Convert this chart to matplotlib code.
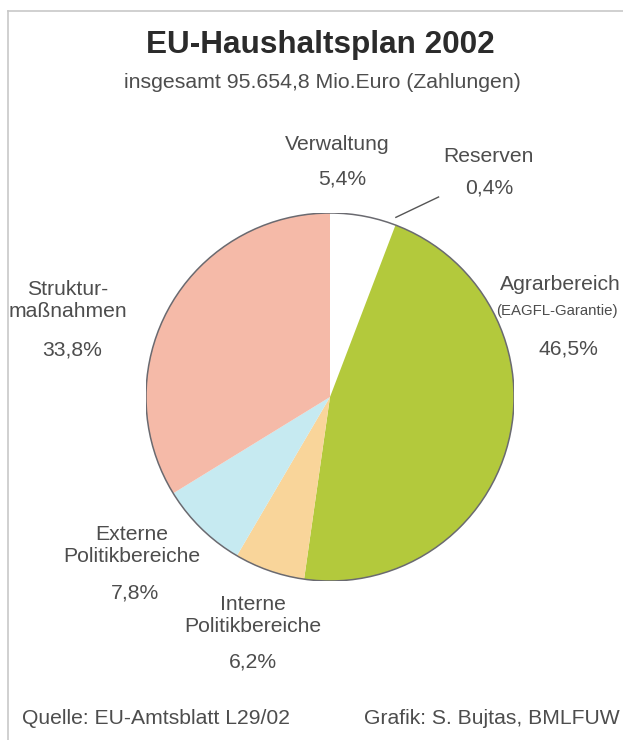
import numpy as np
import matplotlib
matplotlib.use('Agg')
import matplotlib.pyplot as plt
from matplotlib.lines import Line2D
from matplotlib.patches import Circle

plt.rcParams['font.family'] = ['Liberation Sans', 'DejaVu Sans']

# Data (percent of payments)
labels = ['Verwaltung', 'Reserven', 'Agrarbereich', 'Interne\nPolitikbereiche',
          'Externe\nPolitikbereiche', 'Struktur-\nmaßnahmen']
shares = [5.4, 0.4, 46.5, 6.2, 7.8, 33.8]
colors = ['#ffffff', '#ffffff', '#b3c93c', '#f9d59a', '#c6eaf1', '#f5baa8']

W, H = 623, 740
fig = plt.figure(figsize=(W / 100, H / 100), dpi=100)
fig.patch.set_facecolor('white')


def fx(x):
    return x / W


def fy(y):
    return 1 - y / H


# frame around the graphic
fig.add_artist(Line2D([fx(8), fx(8)], [fy(11), 0], color='#c8c8c8', lw=1.2))
fig.add_artist(Line2D([fx(8), 1], [fy(11), fy(11)], color='#c8c8c8', lw=1.2))

# pie: centre (330, 397), radius 184 px
cx, cy, r = 330, 397, 184
ax = fig.add_axes([fx(cx - r), fy(cy + r), 2 * r / W, 2 * r / H])
wedges, _ = ax.pie(shares, colors=colors, startangle=90, counterclock=False,
                   wedgeprops=dict(linewidth=0))
ax.add_patch(Circle((0, 0), 1, fill=False, edgecolor='#6a6a70', lw=1.1))
ax.set_xlim(-1, 1)
ax.set_ylim(-1, 1)
ax.axis('off')

# leader line for the small "Reserven" slice
ang = np.deg2rad(90 - 360 * (shares[0] + shares[1] / 2) / sum(shares))
ax.plot([1.04 * np.cos(ang), 0.59], [1.04 * np.sin(ang), 1.087],
        color='#555555', lw=1, clip_on=False)

txt = '#4d4d4d'
pct = [f'{v:.1f}%'.replace('.', ',') for v in shares]

fig.text(fx(320), fy(45), 'EU-Haushaltsplan 2002', ha='center', va='center',
         fontsize=22.7, fontweight='bold', color='#2b2b2b')
fig.text(fx(322), fy(82), 'insgesamt 95.654,8 Mio.Euro (Zahlungen)',
         ha='center', va='center', fontsize=15.3, color=txt)

fs = 15.2
# Verwaltung
fig.text(fx(337), fy(145), labels[0], ha='center', va='center', fontsize=fs, color=txt)
fig.text(fx(342), fy(179), pct[0], ha='center', va='center', fontsize=fs, color=txt)
# Reserven
fig.text(fx(488), fy(157), labels[1], ha='center', va='center', fontsize=fs, color=txt)
fig.text(fx(489), fy(188), pct[1], ha='center', va='center', fontsize=fs, color=txt)
# Agrarbereich
fig.text(fx(500), fy(284), labels[2], ha='left', va='center', fontsize=fs, color=txt)
fig.text(fx(496), fy(311), '(EAGFL-Garantie)', ha='left', va='center',
         fontsize=10.8, color=txt)
fig.text(fx(568), fy(349), pct[2], ha='center', va='center', fontsize=fs, color=txt)
# Interne Politikbereiche
fig.text(fx(253), fy(615), labels[3], ha='center', va='center', fontsize=fs,
         color=txt, linespacing=1.2)
fig.text(fx(253), fy(662), pct[3], ha='center', va='center', fontsize=fs, color=txt)
# Externe Politikbereiche
fig.text(fx(132), fy(545), labels[4], ha='center', va='center', fontsize=fs,
         color=txt, linespacing=1.2)
fig.text(fx(135), fy(593), pct[4], ha='center', va='center', fontsize=fs, color=txt)
# Strukturmassnahmen
fig.text(fx(68), fy(300), labels[5], ha='center', va='center', fontsize=fs,
         color=txt, linespacing=1.2)
fig.text(fx(72), fy(350), pct[5], ha='center', va='center', fontsize=fs, color=txt)

# footer
fig.text(fx(22), fy(719), 'Quelle: EU-Amtsblatt L29/02', ha='left', va='center',
         fontsize=fs, color=txt)
fig.text(fx(620), fy(719), 'Grafik: S. Bujtas, BMLFUW', ha='right', va='center',
         fontsize=fs, color=txt)

fig.savefig('out.png', dpi=100, facecolor='white')
